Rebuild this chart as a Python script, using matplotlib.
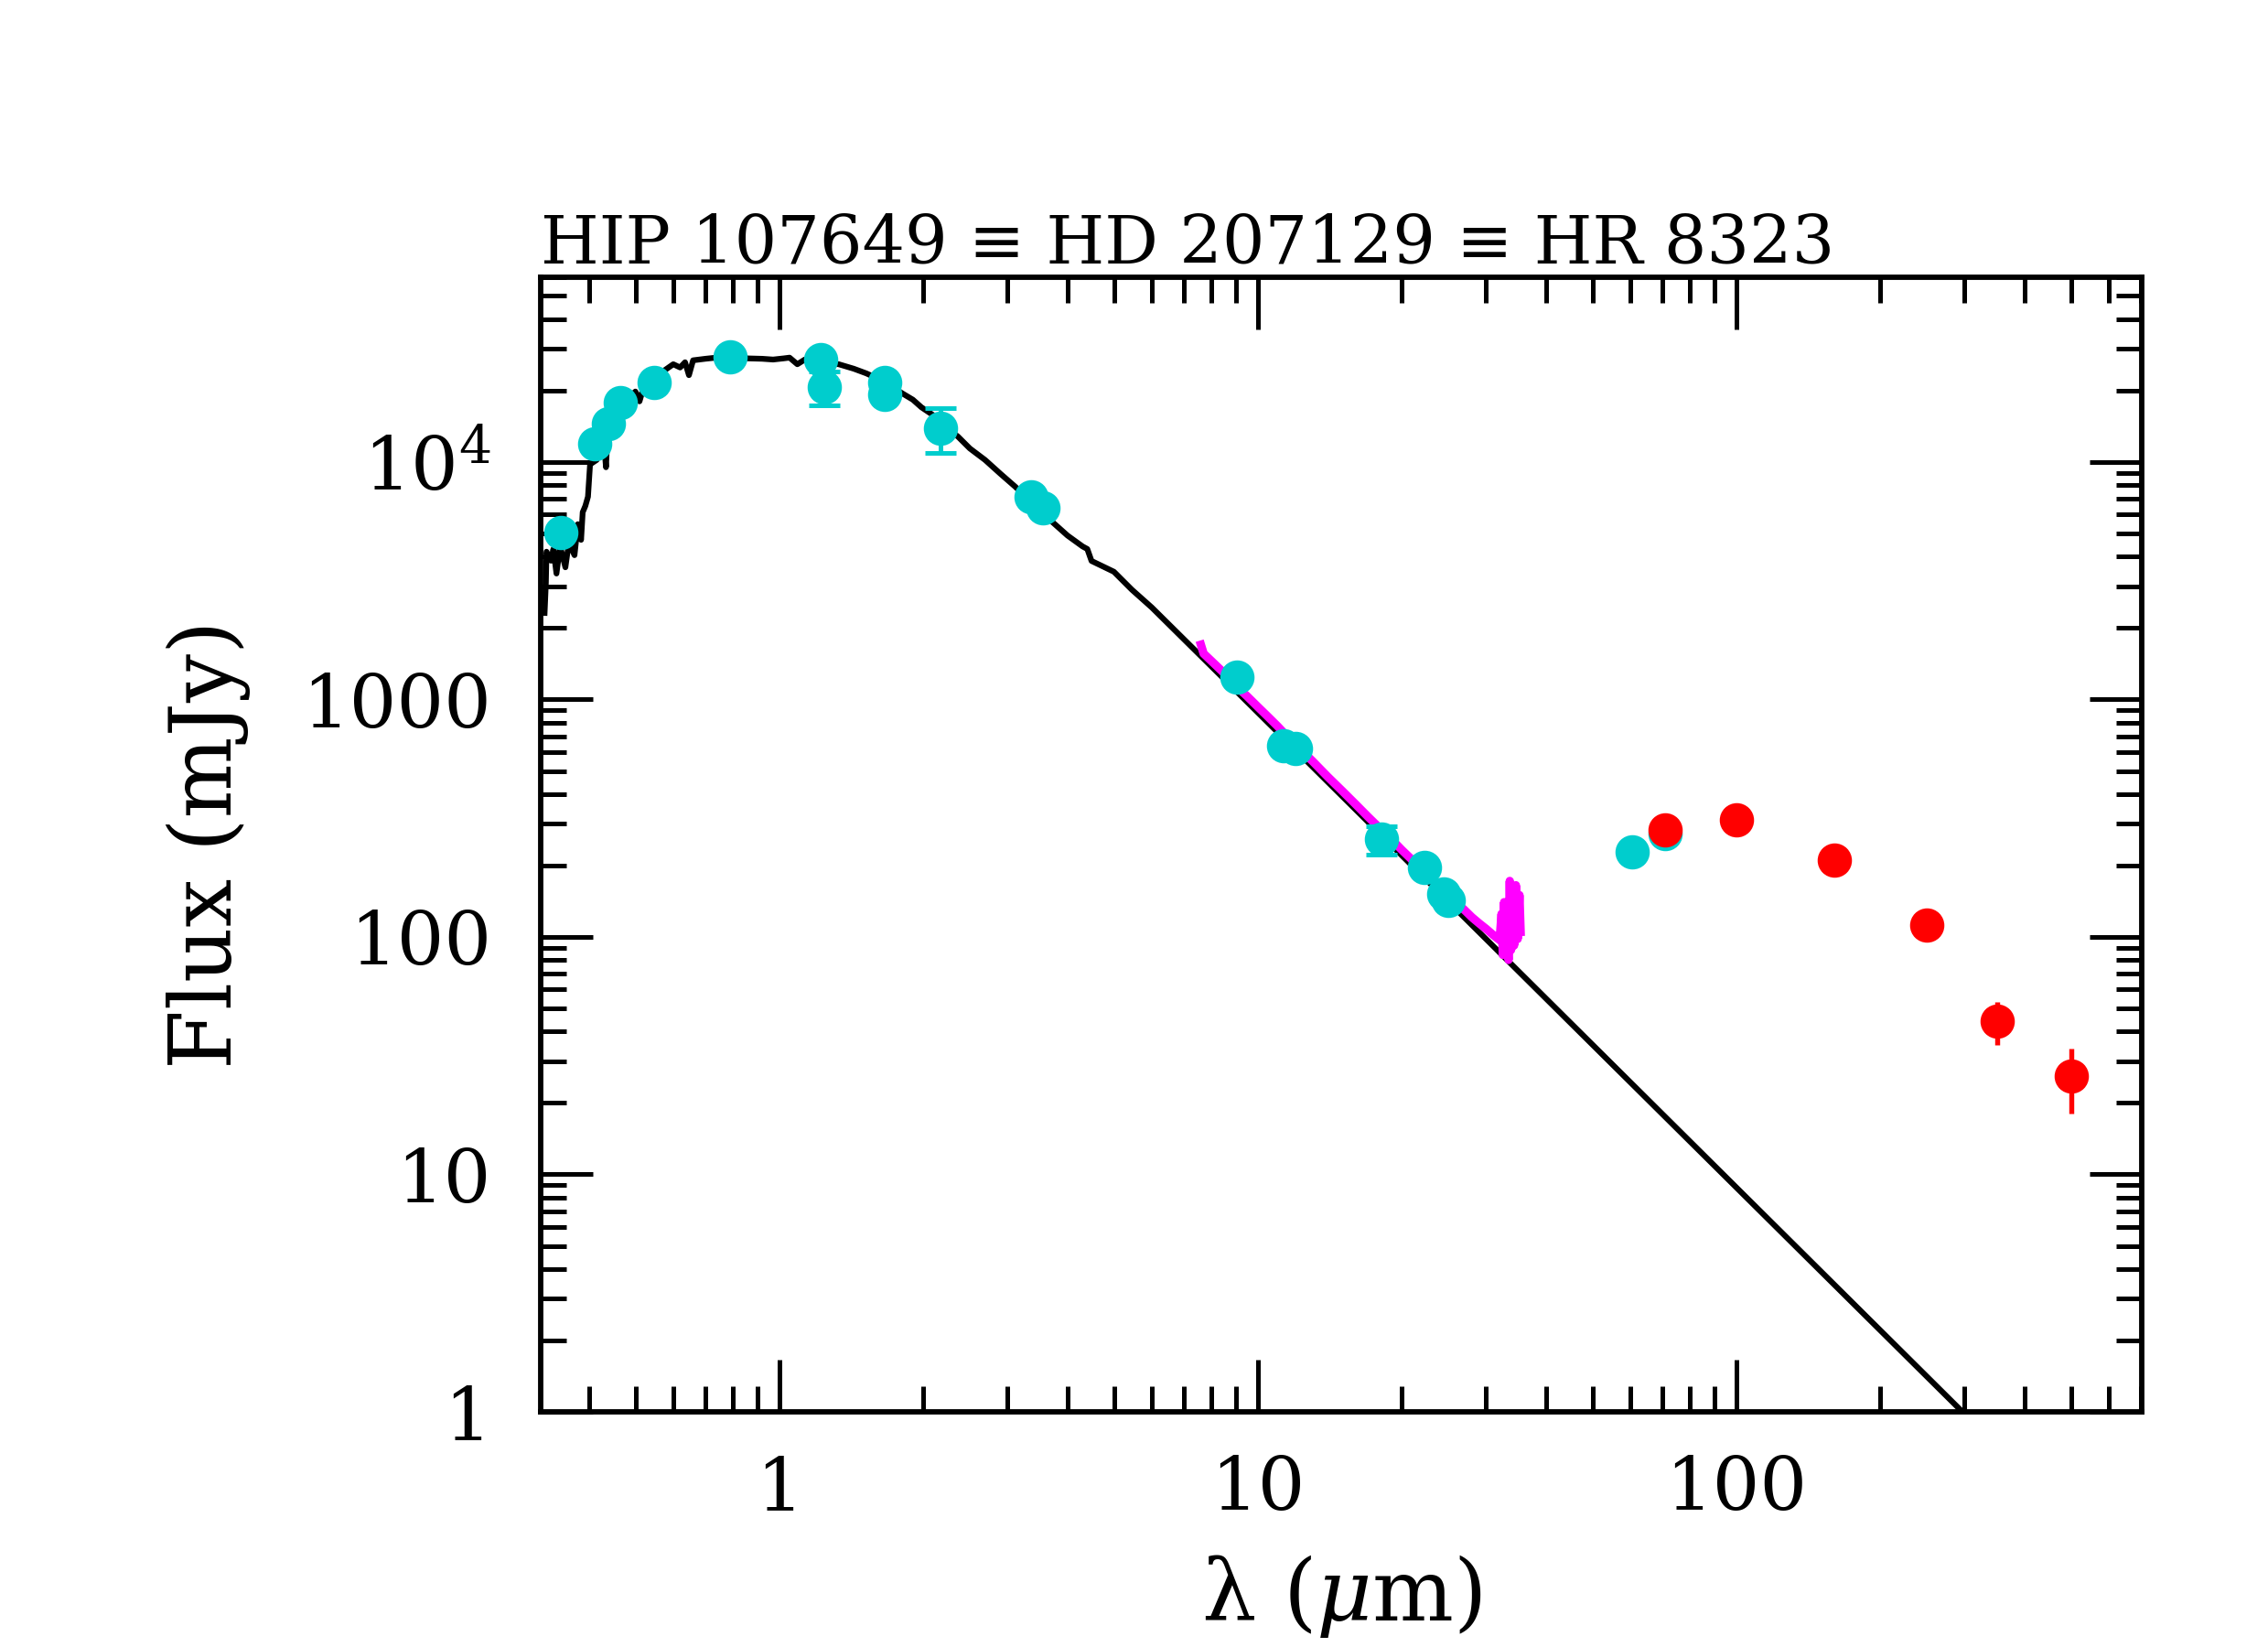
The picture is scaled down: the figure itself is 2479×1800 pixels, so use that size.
import matplotlib

matplotlib.use("Agg")
import matplotlib.pyplot as plt
from matplotlib.ticker import FixedLocator, FixedFormatter, LogLocator, NullFormatter

plt.rcParams["font.family"] = ["DejaVu Serif"]
plt.rcParams["mathtext.fontset"] = "dejavuserif"

# photospheric model (black line)
model_wave = [0.323, 0.325, 0.326, 0.333, 0.337, 0.342, 0.348, 0.357, 0.363, 0.373,
              0.379, 0.385, 0.388, 0.393, 0.398, 0.402, 0.415, 0.428, 0.434, 0.438,
              0.45, 0.47, 0.49, 0.50, 0.51, 0.52, 0.54, 0.57, 0.59, 0.60,
              0.62, 0.635, 0.647, 0.66, 0.70, 0.75, 0.80, 0.86, 0.92, 0.97,
              1.02, 1.05, 1.09, 1.13, 1.20, 1.33, 1.43, 1.52, 1.60, 1.70,
              1.81, 1.90, 1.98, 2.10, 2.20, 2.36, 2.50, 2.69, 2.90, 3.11,
              3.40, 3.71, 4.00, 4.30, 4.40, 4.49, 5.00, 5.45, 6.00, 8.00,
              10.0, 20.0, 40.0, 100.0, 200.0, 400.0]
model_flux = [2313, 3100, 4190, 3840, 4300, 3390, 4420, 3600, 4580, 4050,
              5470, 4700, 6140, 6530, 7140, 9770, 10200, 13500, 9500, 14000,
              15800, 17500, 19000, 19800, 18000, 20600, 21800, 24000, 25200, 25800,
              25000, 26300, 23200, 26800, 27200, 27600, 27800, 27300, 27200, 27000,
              27300, 27500, 25800, 27000, 26500, 25800, 24700, 23600, 22500, 21000,
              19400, 18300, 17000, 15700, 14300, 12800, 11400, 10200, 8900, 7870,
              6600, 5610, 4900, 4410, 4300, 3830, 3450, 2900, 2440, 1375,
              880, 220, 55, 8.8, 2.2, 0.55]

# IRS spectrum (magenta)
irs_wave = [7.6, 7.7, 8.0, 8.5, 9.0, 9.5, 10.0, 10.5, 11.0, 11.5,
            12.0, 13.0, 14.0, 15.0, 16.0, 17.0, 18.0, 19.0, 20.0, 21.0,
            22.0, 23.0, 24.0, 25.0, 26.0, 27.0, 28.0, 29.0, 30.0, 31.0,
            32.0, 32.3, 32.5, 32.7, 32.9, 33.2, 33.4, 33.6, 33.8, 34.0,
            34.3, 34.6, 34.9, 35.2, 35.4]
irs_flux = [1700, 1560, 1450, 1290, 1140, 1030, 930, 845, 770, 700,
            645, 550, 472, 412, 362, 320, 286, 258, 232, 211,
            192, 176, 162, 150, 139, 130, 121, 114, 108, 102,
            97, 125, 84, 140, 86, 118, 80, 172, 88, 150,
            92, 165, 98, 150, 105]

# photometry (cyan)
phot_wave = [0.349, 0.411, 0.439, 0.465, 0.547, 0.788, 1.22, 1.24, 1.66, 1.66,
             2.17, 3.35, 3.55, 9.04, 11.3, 12.0, 18.1, 22.3, 24.4, 25.0,
             60.5, 70.8]
phot_flux = [5050, 11900, 14500, 17800, 21600, 27700, 27000, 20700, 21600, 19300,
             13900, 7140, 6410, 1243, 638, 620, 258, 196, 152, 143,
             228, 272]
phot_err = [0, 0, 0, 0, 0, 0, 0, 3450, 0, 0,
            3000, 0, 0, 0, 0, 0, 35, 0, 0, 0,
            0, 12]

# far-IR / submm photometry (red)
fir_wave = [70.8, 100.0, 160.0, 250.0, 350.0, 500.0]
fir_flux = [282, 311, 211, 112, 44, 26]
fir_err = [6, 8, 8, 15, 9, 8]

fig = plt.figure(figsize=(2479 / 300, 1800 / 300), dpi=300)
ax = fig.add_axes([0.2384, 0.1428, 0.7059, 0.6889])
ax.set_xscale("log")
ax.set_yscale("log")

ax.plot(model_wave, model_flux, color="black", lw=1.5, zorder=2)
ax.plot(irs_wave, irs_flux, color="#ff00ff", lw=2.2, zorder=3)
ax.errorbar(phot_wave, phot_flux, yerr=phot_err, fmt="o", color="#00cdcd",
            ms=8, elinewidth=1.2, capsize=4, capthick=1.2, zorder=4)
ax.errorbar(fir_wave, fir_flux, yerr=fir_err, fmt="o", color="#ff0000",
            ms=8, elinewidth=1.3, capsize=0, zorder=5)

ax.set_xlim(0.317, 703)
ax.set_ylim(1, 6.0e4)

ax.xaxis.set_major_locator(FixedLocator([1, 10, 100]))
ax.xaxis.set_major_formatter(FixedFormatter(["1", "10", "100"]))
ax.yaxis.set_major_locator(FixedLocator([1, 10, 100, 1000, 1e4]))
ax.yaxis.set_major_formatter(FixedFormatter(["1", "10", "100", "1000", "10$^4$"]))
ax.xaxis.set_minor_locator(LogLocator(subs=range(2, 10)))
ax.yaxis.set_minor_locator(LogLocator(subs=range(2, 10)))
ax.xaxis.set_minor_formatter(NullFormatter())
ax.yaxis.set_minor_formatter(NullFormatter())

ax.tick_params(which="both", direction="in", top=True, right=True, width=1.2)
ax.tick_params(which="major", length=13.7, labelsize=19.5)
ax.tick_params(which="minor", length=6.8)
ax.tick_params(axis="y", which="major", pad=13)
ax.tick_params(axis="x", which="major", pad=11)
for sp in ax.spines.values():
    sp.set_linewidth(1.4)

ax.set_title("HIP 107649 \u2261 HD 207129 \u2261 HR 8323", loc="left", fontsize=17.6, pad=2)
ax.set_xlabel("\u03bb ($\\mu$m)", fontsize=22.5, va="top")
ax.xaxis.set_label_coords(0.5, -0.124)
ax.set_ylabel("Flux (mJy)", fontsize=22.5)
ax.yaxis.set_label_coords(-0.181, 0.5)

fig.savefig("out.png", dpi=300)
